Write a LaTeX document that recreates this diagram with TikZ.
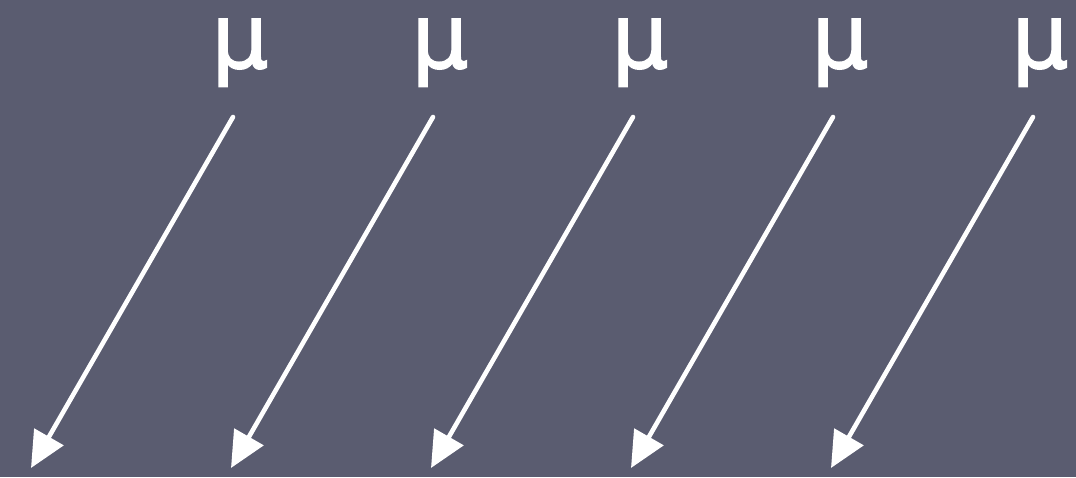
\documentclass[tikz,border=0pt]{standalone}
\usepackage{fontspec}
\newfontfamily\mufont[FakeBold=1.6]{DejaVu Sans}
\usetikzlibrary{arrows.meta}
\definecolor{slide}{HTML}{5A5C70}
\tikzset{mulbl/.style={text=white, font=\mufont\fontsize{90}{90}\selectfont, inner sep=0pt, anchor=base},
  warr/.style={-{Triangle[length=36pt, width=33pt]}, line width=4.6pt, line cap=round, white}}

\begin{document}
\begin{tikzpicture}[x=1pt,y=-1pt]
% ---- slide background ----
\fill[slide] (0,0) rectangle (1076,477);
\useasboundingbox (0,0) rectangle (1076,477);
% ---- labels and arrows ----
\foreach \i in {0,...,4}{
  \node[mulbl] (mu\i) at (240+200*\i,68) {μ};
  \coordinate (s\i) at (233+200*\i,117);
  \coordinate (e\i) at (31+200*\i,468);
  \draw[warr] (s\i) -- (e\i);}
\end{tikzpicture}
\end{document}
